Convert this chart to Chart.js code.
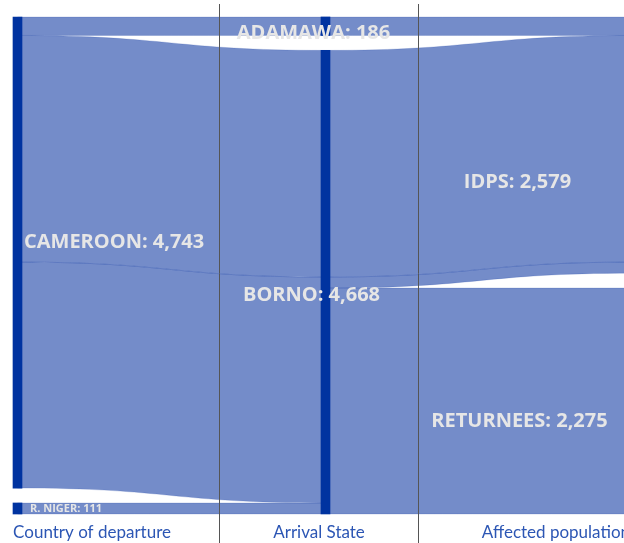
<!DOCTYPE html>
<html>
<head>
<meta charset="utf-8">
<script src="https://cdn.jsdelivr.net/npm/chart.js@4.4.0/dist/chart.umd.min.js"></script>
<style>
  html, body { margin: 0; padding: 0; background: #fff; overflow: hidden; }
  #wrap { width: 650px; height: 543px; }
</style>
</head>
<body>
<div id="wrap"><canvas id="chart" width="650" height="543"></canvas></div>
<script>
// columns and their nodes, top to bottom
const columnTitles = ["Country of departure", "Arrival State", "Affected population"];
const departure = ["CAMEROON", "R. NIGER"];
const arrival = ["ADAMAWA", "BORNO"];
const affected = ["IDPS", "RETURNEES"];

// routes: departure -> arrival -> affected population, people
const routeFrom = ["CAMEROON", "CAMEROON", "CAMEROON", "R. NIGER"];
const routeVia = ["ADAMAWA", "BORNO", "BORNO", "BORNO"];
const routeTo = ["IDPS", "IDPS", "RETURNEES", "IDPS"];
const routeValue = [186, 2282, 2275, 111];

const NODE_GAP = 150;          // people-units of space between nodes in a column
const FLOW = "rgba(10, 53, 160, 0.57)";
const NODE = "#0033a0";
const LABEL = "#e6e6e6";
const TITLE = "#2c56b4";

// where things sit on the x scale (columns are 0, 1, 2)
const separatorX = [0.654, 1.3];
const titleX = [0.242, 0.979, 1.748];
const labelStyle = {
  "CAMEROON": { dx: 6.5, dy: -12, align: "left", size: 20 },
  "R. NIGER": { dx: 12.5, dy: 0, align: "left", size: 11 },
  "ADAMAWA": { dx: -12, dy: 6, align: "center", size: 20 },
  "BORNO": { dx: -14, dy: 12, align: "center", size: 20 },
  "IDPS": { dx: -116, dy: 36, align: "center", size: 20 },
  "RETURNEES": { dx: -114, dy: 19, align: "center", size: 20 }
};

const columns = [departure, arrival, affected];
const keys = ["from", "via", "to"];
const routes = routeValue.map((v, i) => ({ from: routeFrom[i], via: routeVia[i], to: routeTo[i], value: v }));

// stack nodes in each column
const nodes = {};
columns.forEach((names, col) => {
  let y = 0;
  names.forEach(name => {
    const value = routes.filter(r => r[keys[col]] === name).reduce((s, r) => s + r.value, 0);
    nodes[name] = { name, col, value, y0: y, y1: y + value };
    y += value + NODE_GAP;
  });
});
const yMax = Math.max(...Object.values(nodes).map(n => n.y1));

// stack each route's slice inside a node, in a given order
const rank = (k, name) => columns[keys.indexOf(k)].indexOf(name);
function stack(nodeKey, order, slot) {
  const offset = {};
  [...routes].sort((a, b) => {
    for (const k of order) {
      const d = rank(k, a[k]) - rank(k, b[k]);
      if (d) return d;
    }
    return 0;
  }).forEach(r => {
    const n = nodes[r[nodeKey]];
    const o = offset[n.name] ?? n.y0;
    r[slot] = [o, o + r.value];
    offset[n.name] = o + r.value;
  });
}
stack("from", ["via", "to"], "a0");
stack("via", ["from", "to"], "a1");
stack("via", ["to", "from"], "b0");
stack("to", ["via", "from"], "b1");

const sankeyLinks = {
  id: "sankeyLinks",
  beforeDatasetsDraw(chart) {
    const { ctx, scales: { x, y } } = chart;
    ctx.save();
    ctx.fillStyle = FLOW;
    ctx.strokeStyle = FLOW;
    ctx.lineWidth = 0.3;
    routes.forEach(r => {
      [[0, r.a0, r.a1], [1, r.b0, r.b1]].forEach(([c, s, t]) => {
        const xa = x.getPixelForValue(c), xb = x.getPixelForValue(c + 1), xm = (xa + xb) / 2;
        const s0 = y.getPixelForValue(s[0]), s1 = y.getPixelForValue(s[1]);
        const t0 = y.getPixelForValue(t[0]), t1 = y.getPixelForValue(t[1]);
        ctx.beginPath();
        ctx.moveTo(xa, s0);
        ctx.bezierCurveTo(xm, s0, xm, t0, xb, t0);
        ctx.lineTo(xb, t1);
        ctx.bezierCurveTo(xm, t1, xm, s1, xa, s1);
        ctx.closePath();
        ctx.fill();
        ctx.stroke();
      });
    });
    ctx.restore();
  }
};

const sankeyText = {
  id: "sankeyText",
  afterDatasetsDraw(chart) {
    const { ctx, chartArea, scales: { x, y } } = chart;
    ctx.save();
    // node labels
    ctx.fillStyle = LABEL;
    ctx.textBaseline = "alphabetic";
    Object.values(nodes).forEach(n => {
      const st = labelStyle[n.name];
      ctx.font = "bold " + st.size + "px 'Open Sans', sans-serif";
      ctx.textAlign = st.align;
      const cx = x.getPixelForValue(n.col) + st.dx;
      const cy = y.getPixelForValue((n.y0 + n.y1) / 2) + st.dy + st.size * 0.36;
      ctx.fillText(n.name + ": " + n.value.toLocaleString("en-US"), cx, cy);
    });
    // column separators
    ctx.strokeStyle = "#555";
    ctx.lineWidth = 1;
    separatorX.forEach(v => {
      const px = Math.round(x.getPixelForValue(v)) + 0.5;
      ctx.beginPath();
      ctx.moveTo(px, 4);
      ctx.lineTo(px, chart.height);
      ctx.stroke();
    });
    // column titles
    ctx.fillStyle = TITLE;
    ctx.font = "17px Lato, sans-serif";
    ctx.textAlign = "center";
    columnTitles.forEach((t, i) => {
      ctx.fillText(t, x.getPixelForValue(titleX[i]), chartArea.bottom + 24);
    });
    ctx.restore();
  }
};

const nodeList = Object.values(nodes);

new Chart(document.getElementById("chart"), {
  type: "bar",
  data: {
    datasets: [{
      data: nodeList.map(n => ({ x: n.col, y: [n.y0, n.y1] })),
      backgroundColor: NODE,
      barThickness: 9,
      grouped: false,
      clip: false
    }]
  },
  options: {
    responsive: false,
    animation: false,
    layout: { padding: { left: 17.5, right: 16.5, top: 17, bottom: 29 } },
    plugins: { legend: { display: false }, tooltip: { enabled: false } },
    scales: {
      x: { type: "linear", min: 0, max: 2, offset: false, display: false },
      y: { min: 0, max: yMax, reverse: true, display: false }
    }
  },
  plugins: [sankeyLinks, sankeyText]
});
</script>
</body>
</html>
